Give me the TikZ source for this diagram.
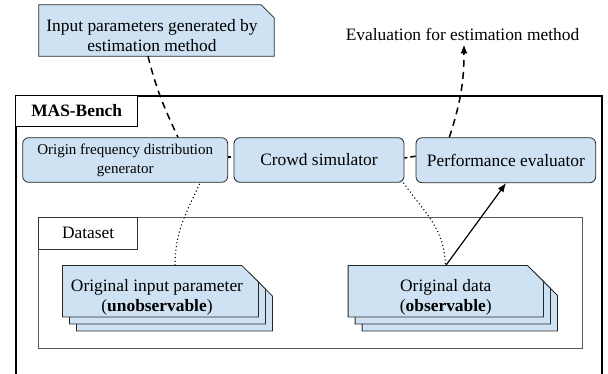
\documentclass[tikz,border=0pt]{standalone}
\usepackage{fontspec}
\setmainfont{Liberation Serif}
\usetikzlibrary{arrows.meta,calc}
\definecolor{boxblue}{HTML}{CFE2F3}
\tikzset{
  big/.style={font=\fontsize{17.4}{20}\selectfont},
  small/.style={font=\fontsize{15}{19}\selectfont},
  mod/.style={draw=black!85, fill=boxblue, rounded corners=6pt, line width=0.8pt, inner sep=0pt, align=center},
  lbl/.style={draw=black, line width=1pt, fill=white, inner sep=0pt},
  docs/.style={draw=black!85, fill=boxblue, line width=0.8pt},
  holder/.style={inner sep=0pt, draw=none},
  dsh/.style={line width=1.5pt, dash pattern=on 7pt off 5pt},
  dotl/.style={line width=1.1pt, dash pattern=on 1.1pt off 2.6pt},
  tip/.style={-{Latex[length=9pt,width=7pt]}},
}
\newcommand\docat[3]{%
  \filldraw[docs] ($(#1.north west)+(#2,#2)$) -- ($(#1.north east)+({#2-#3},#2)$)
    -- ($(#1.north east)+(#2,{#2+#3})$) -- ($(#1.south east)+(#2,#2)$)
    -- ($(#1.south west)+(#2,#2)$) -- cycle;}
\begin{document}
\begin{tikzpicture}[x=1pt,y=-1pt]
\useasboundingbox (0,0) rectangle (608,373);
% outer frame
\draw[line width=1.8pt] (15.7,374) -- (15.7,95.7) -- (602.3,95.7) -- (602.3,374);
\node[lbl, minimum width=122pt, minimum height=30.3pt, font=\fontsize{17.4}{20}\selectfont\bfseries] (mas) at (76.7,110.85) {MAS-Bench};
% dataset frame
\draw[draw=black!65, line width=1pt] (38.7,217.7) rectangle (582.3,348.3);
\node[lbl, big, minimum width=99pt, minimum height=31.3pt, draw=black!80] (ds) at (88.2,233.35) {Dataset};
% modules
\node[mod, small, minimum width=205pt, minimum height=44.6pt] (orig) at (125.2,160) {Origin frequency distribution\\generator};
\node[mod, big, minimum width=170pt, minimum height=44.6pt] (crowd) at (319,160) {Crowd simulator};
\node[mod, big, minimum width=179.7pt, minimum height=45pt] (perf) at (505.85,160.2) {Performance evaluator};
% input doc
\node[holder, minimum width=235pt, minimum height=51pt] (inp) at (156.5,30.5) {};
\docat{inp}{0}{13}
\node[big, align=center, inner sep=0pt] (inptxt) at (152,36) {Input parameters generated by\\estimation method};
% evaluation
\node[big, inner sep=4pt] (eval) at (462.5,34) {Evaluation for estimation method};
% stacks
\node[holder, minimum width=195.6pt, minimum height=51pt] (oip) at (160.5,291.2) {};
\docat{oip}{14}{16.6}
\docat{oip}{7}{16.6}
\docat{oip}{0}{16.6}
\node[big, align=center, inner sep=0pt] (oiptxt) at (157,297) {Original input parameter\\(\textbf{unobservable})};
\node[holder, minimum width=195pt, minimum height=51pt] (odata) at (445.8,291.2) {};
\docat{odata}{14}{16}
\docat{odata}{7}{16}
\docat{odata}{0}{16}
\node[big, align=center, inner sep=0pt] (odtxt) at (445.8,297) {Original data\\(\textbf{observable})};
% connectors
\draw[dsh] ([xshift=-8.5pt]inp.south) to[out=-76,in=115] ([xshift=52.8pt]orig.north);
\draw[dsh, dash pattern=on 3pt off 3pt] ([yshift=3pt]orig.east) -- ([yshift=3pt]crowd.west);
\draw[dsh, dash pattern=on 3pt off 3pt on 6pt off 10pt] ([yshift=2pt]crowd.east) -- ([yshift=4pt]perf.west);
\draw[dsh, tip] ([xshift=-56.5pt]perf.north) to[out=72,in=-90] ([xshift=1.5pt]eval.south);
\draw[dotl] ([xshift=14.5pt]oip.north) to[out=90,in=-115] ([xshift=75pt]orig.south);
\draw[dotl] ([xshift=-1pt]crowd.south east) to[out=-55,in=90] ([xshift=-0.5pt]odata.north);
\draw[line width=1.2pt, tip] (odata.north) -- ([xshift=0.2pt]perf.south);
\end{tikzpicture}
\end{document}
